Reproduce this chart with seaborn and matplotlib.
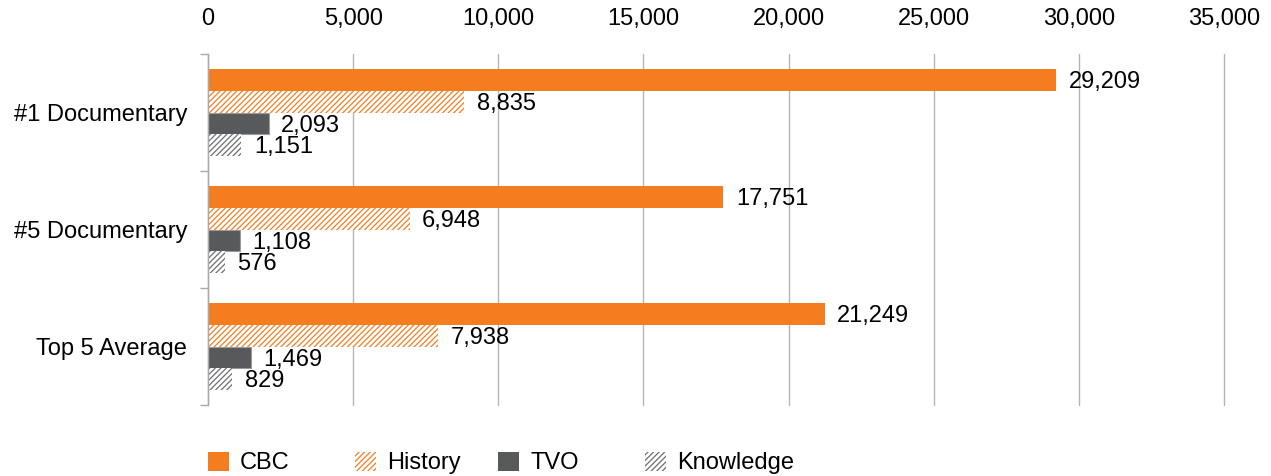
import matplotlib
matplotlib.use("Agg")
import matplotlib.pyplot as plt
import matplotlib.patches as mpatches
from matplotlib.ticker import FuncFormatter, FixedLocator
import seaborn as sns
import pandas as pd

categories = ["#1 Documentary", "#5 Documentary", "Top 5 Average"]
networks = ["CBC", "History", "TVO", "Knowledge"]
cbc = [29209, 17751, 21249]
history = [8835, 6948, 7938]
tvo = [2093, 1108, 1469]
knowledge = [1151, 576, 829]
x_ticks = [0, 5000, 10000, 15000, 20000, 25000, 30000, 35000]

ORANGE = "#F47D20"
DARK = "#58595B"
GRAYH = "#6d6e70"
FS = 17
HATCH = "//////"

rows = []
for net, vals in zip(networks, [cbc, history, tvo, knowledge]):
    for c, v in zip(categories, vals):
        rows.append({"category": c, "network": net, "value": v})
df = pd.DataFrame(rows)

sns.set_style("white")
plt.rcParams['font.family'] = ['Liberation Sans', 'DejaVu Sans']
plt.rcParams['hatch.linewidth'] = 0.9
plt.rcParams['text.color'] = 'black'
plt.rcParams['xtick.color'] = 'black'
plt.rcParams['ytick.color'] = 'black'

fig = plt.figure(figsize=(12.71, 4.76), dpi=100)
ax = fig.add_axes([208/1271, 1-405/476, (1224-208)/1271, (405-54)/476])

palette = {"CBC": ORANGE, "History": "white", "TVO": DARK, "Knowledge": "white"}
sns.barplot(data=df, y="category", x="value", hue="network", hue_order=networks,
            order=categories, orient="h", palette=palette, width=0.75,
            saturation=1, ax=ax, legend=False)

styles = {
    "CBC": dict(fc=ORANGE, ec=ORANGE, hatch=None, lw=0),
    "History": dict(fc="white", ec=ORANGE, hatch=HATCH, lw=0),
    "TVO": dict(fc=DARK, ec="#9a9a9a", hatch=None, lw=0.8),
    "Knowledge": dict(fc="white", ec=GRAYH, hatch=HATCH, lw=0),
}
for net, cont in zip(networks, ax.containers):
    st = styles[net]
    for p in cont:
        p.set_facecolor(st["fc"])
        p.set_edgecolor(st["ec"])
        p.set_linewidth(st["lw"])
        if st["hatch"]:
            p.set_hatch(st["hatch"])
    vals = [df[(df.network == net) & (df.category == c)].value.iloc[0] for c in categories]
    anns = ax.bar_label(cont, labels=[f"{v:,}" for v in vals], padding=10, fontsize=FS, color="black")
    for a in anns:
        a.xyann = (9, -1.5)

ax.set_xlim(0, 35000)
ax.set_ylim(2.5, -0.5)
ax.xaxis.tick_top()
ax.set_xticks(x_ticks)
ax.xaxis.set_major_formatter(FuncFormatter(lambda v, p: f"{int(v):,}"))
ax.tick_params(axis="x", length=0, pad=17, labelsize=FS, labelcolor="black")
ax.tick_params(axis="y", which="major", length=0, pad=15, labelsize=FS, labelcolor="black")
ax.yaxis.set_minor_locator(FixedLocator([-0.5, 0.5, 1.5, 2.5]))
ax.tick_params(axis="y", which="minor", length=6, color="#aaaaaa", width=1, left=True)
ax.grid(axis="x", color="#b5b5b5", lw=1)
for gl in ax.get_xgridlines():
    gl.set_clip_on(False)
ax.set_axisbelow(True)
ax.set_xlabel("")
ax.set_ylabel("")
for s in ["top", "right", "bottom"]:
    ax.spines[s].set_visible(False)
ax.spines["left"].set_color("#aaaaaa")
ax.spines["left"].set_linewidth(1)

handles = [
    mpatches.Patch(facecolor=ORANGE, edgecolor=ORANGE, lw=0, label="CBC"),
    mpatches.Patch(facecolor="white", edgecolor=ORANGE, hatch=HATCH, lw=0, label="History"),
    mpatches.Patch(facecolor=DARK, edgecolor=DARK, lw=0, label="TVO"),
    mpatches.Patch(facecolor="white", edgecolor=GRAYH, hatch=HATCH, lw=0, label="Knowledge"),
]
legend_x = [208, 355, 498, 645]
for h, lx in zip(handles, legend_x):
    fig.legend(handles=[h], loc="center left", bbox_to_anchor=(lx/1271, 1-463/476),
               frameon=False, fontsize=FS, handlelength=0.89, handleheight=0.89,
               handletextpad=0.47, borderaxespad=0, borderpad=0)

fig.savefig("out.png", dpi=100)
